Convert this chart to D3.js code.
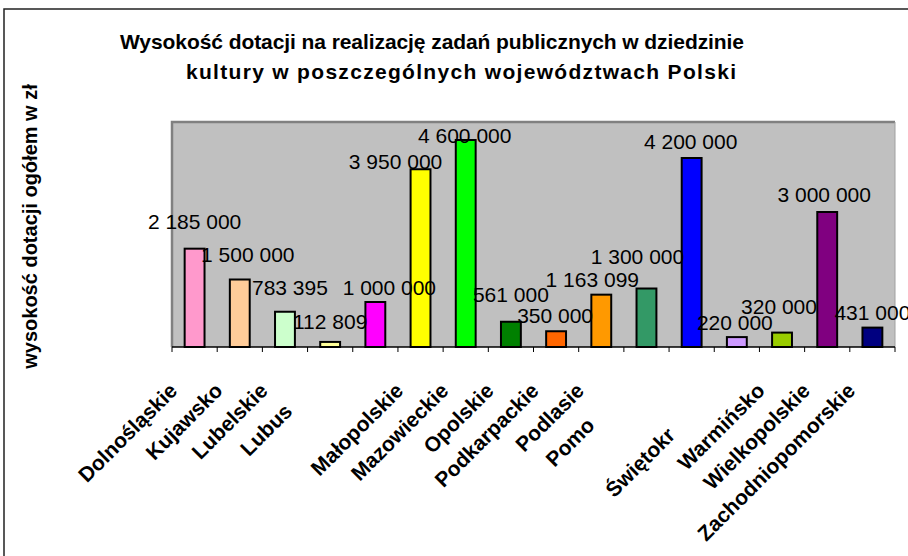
<!DOCTYPE html>
<html><head><meta charset="utf-8">
<script src="https://cdn.jsdelivr.net/npm/d3@7"></script>
<style>
body{margin:0;background:#fff}
svg{display:block}
text{font-family:"Liberation Sans",Arial,sans-serif}
</style>
</head><body>
<svg id="chart" width="908" height="556"></svg>
<script>
const categories = ["Dolnośląskie","Kujawsko","Lubelskie","Lubuskie","Łódzkie","Małopolskie","Mazowieckie","Opolskie","Podkarpackie","Podlasie","Pomorskie","Śląskie","Świętokrzyskie","Warmińsko","Wielkopolskie","Zachodniopomorskie"];
const visibleLabels = ["Dolnośląskie","Kujawsko","Lubelskie","Lubus","","Małopolskie","Mazowieckie","Opolskie","Podkarpackie","Podlasie","Pomo","","Świętokr","Warmińsko","Wielkopolskie","Zachodniopomorskie"];
const values = [2185000,1500000,783395,112809,1000000,3950000,4600000,561000,350000,1163099,1300000,4200000,220000,320000,3000000,431000];
const colors = ["#FF99CC","#FFCC99","#CCFFCC","#FFFF99","#FF00FF","#FFFF00","#00FF00","#008000","#FF6600","#FF9900","#339966","#0000FF","#CC99FF","#99CC00","#800080","#000080"];
const labelShiftX = [0,8,5,0,14,-25,-1,0,-1,-9,-9,-1,-2,-3,-3,0];
const labelGap = [20,18,17,13,7,0,-3,20,8,8,25,9,7,19,10,8];
const titleLines = ["Wysokość dotacji na realizację zadań publicznych w dziedzinie","kultury w poszczególnych województwach Polski"];
const yTitle = "wysokość dotacji ogółem w zł";
const yMax = 5000000;

const svg = d3.select("#chart");
const plot = {left:172, right:895, top:122, bottom:347};

// outer chart frame
svg.append("rect").attr("x",4).attr("y",9).attr("width",1000).attr("height",1000)
  .attr("fill","#fff").attr("stroke","#222").attr("stroke-width",1.5);

const x = d3.scaleBand().domain(categories).range([plot.left, plot.right])
  .paddingInner(0.56).paddingOuter(0.28);
const y = d3.scaleLinear().domain([0, yMax]).range([plot.bottom, plot.top]);
const edge = d3.scaleLinear().domain([0, categories.length]).range([plot.left, plot.right]);

// plot area
svg.append("rect").attr("x",plot.left).attr("y",plot.top)
  .attr("width",plot.right-plot.left).attr("height",plot.bottom-plot.top).attr("fill","#C0C0C0");
svg.append("path").attr("d",`M${plot.left},${plot.bottom}V${plot.top}H${plot.right}`)
  .attr("fill","none").attr("stroke","#808080").attr("stroke-width",2.5);
svg.append("line").attr("x1",plot.right).attr("x2",plot.right).attr("y1",plot.top).attr("y2",plot.bottom)
  .attr("stroke","#a0a0a0").attr("stroke-width",1);

// bars
svg.append("g").selectAll("rect").data(values).join("rect")
  .attr("x",(d,i)=>x(categories[i]))
  .attr("y",d=>y(d))
  .attr("width",x.bandwidth())
  .attr("height",d=>y(0)-y(d))
  .attr("fill",(d,i)=>colors[i])
  .attr("stroke","#000").attr("stroke-width",2);

// x axis
svg.append("line").attr("x1",plot.left).attr("x2",plot.right).attr("y1",plot.bottom).attr("y2",plot.bottom)
  .attr("stroke","#000").attr("stroke-width",1.5);
svg.append("g").selectAll("line").data(d3.range(categories.length+1)).join("line")
  .attr("x1",d=>edge(d)).attr("x2",d=>edge(d))
  .attr("y1",plot.bottom).attr("y2",plot.bottom+5)
  .attr("stroke","#000").attr("stroke-width",1);

// category labels (rotated), partially visible like in the original
const lab = svg.append("g");
categories.forEach((c,i)=>{
  const cx = x(c) + x.bandwidth()/2 - 16;
  const g = lab.append("g").attr("transform",`translate(${cx},${plot.bottom+45}) rotate(-45)`);
  const t = g.append("text").attr("font-size",21).attr("font-weight","bold").attr("fill","#000").text(c);
  const full = t.node().getComputedTextLength();
  if (visibleLabels[i] === "") { g.remove(); return; }
  t.text(visibleLabels[i]).attr("x",-full).attr("text-anchor","start");
});

// data labels
const fmt = v => d3.format(",")(v).replace(/,/g," ");
svg.append("g").selectAll("text").data(values).join("text")
  .attr("x",(d,i)=>x(categories[i]) + x.bandwidth()/2 + labelShiftX[i])
  .attr("y",(d,i)=>y(d) - labelGap[i])
  .attr("text-anchor","middle").attr("font-size",21).attr("fill","#000")
  .text(fmt);

// title
svg.append("text").attr("x",432).attr("y",49).attr("text-anchor","middle")
  .attr("font-size",21).attr("font-weight","bold")
  .attr("textLength",624).attr("lengthAdjust","spacing").text(titleLines[0]);
svg.append("text").attr("x",461).attr("y",79).attr("text-anchor","middle")
  .attr("font-size",21).attr("font-weight","bold")
  .attr("textLength",550).attr("lengthAdjust","spacing").text(titleLines[1]);

// y title
svg.append("text").attr("transform",`translate(37,${(plot.top+plot.bottom)/2 - 8}) rotate(-90)`)
  .attr("text-anchor","middle").attr("font-size",20).attr("font-weight","bold").text(yTitle);
</script>
</body></html>
